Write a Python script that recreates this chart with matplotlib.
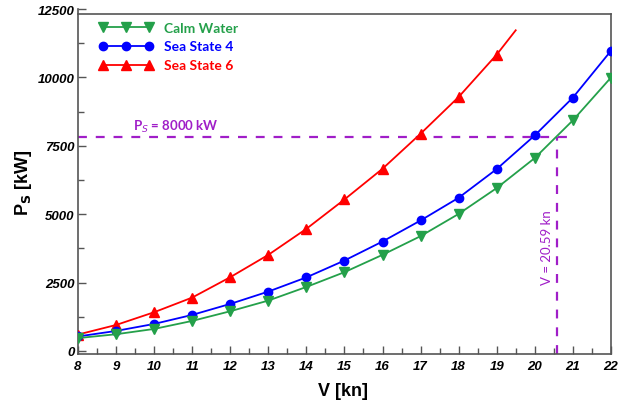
import matplotlib.pyplot as plt
from matplotlib.ticker import MultipleLocator

# speed in knots
speed = [8, 9, 10, 11, 12, 13, 14, 15, 16, 17, 18, 19, 20, 21, 22]
calm_water = [470, 611, 805, 1098, 1452, 1842, 2340, 2880, 3514, 4197, 5010, 5955, 7053, 8429, 9992]
sea_state_4 = [530, 732, 988, 1318, 1720, 2171, 2690, 3306, 4001, 4770, 5600, 6650, 7880, 9260, 10969]
# sea state 6 line runs on to 19.5 kn without a marker at the end
speed_ss6 = [8, 9, 10, 11, 12, 13, 14, 15, 16, 17, 18, 19, 19.5]
sea_state_6 = [600, 950, 1416, 1952, 2697, 3514, 4465, 5538, 6661, 7942, 9285, 10834, 11724]

ps_limit = 7820
v_limit = 20.59

green = '#24a04a'
blue = '#0000ff'
red = '#ff0000'
purple = '#a01ec8'
axcol = '#555555'

fig = plt.figure(figsize=(6.41, 4.02), dpi=100)
ax = fig.add_axes([0.1217, 0.117, 0.8313, 0.858])

ax.plot(speed_ss6, sea_state_6, color=red, lw=1.3, marker='^', ms=7,
        markevery=list(range(len(speed_ss6) - 1)), label='Sea State 6', zorder=3)
ax.plot(speed, sea_state_4, color=blue, lw=1.3, marker='o', ms=6, label='Sea State 4', zorder=4)
ax.plot(speed, calm_water, color=green, lw=1.3, marker='v', ms=7, label='Calm Water', zorder=5)

# reference lines
ax.plot([8, 21], [ps_limit, ps_limit], color=purple, lw=1.6, ls=(0, (4, 4)), zorder=2)
ax.plot([v_limit, v_limit], [-110, ps_limit], color=purple, lw=1.6, ls=(0, (4, 4)), zorder=2)
ax.text(9.45, ps_limit + 120, r'P$_S$ = 8000 kW', color=purple, fontsize=9.5,
        family='Lato', fontweight='bold', va='bottom', ha='left')
ax.text(20.33, 3800, 'V = 20.59 kn', color=purple, fontsize=9.5, family='Lato',
        rotation=90, ha='center', va='center')

ax.set_xlim(8, 22)
ax.set_ylim(-110, 12500)
ax.xaxis.set_major_locator(MultipleLocator(1))
ax.xaxis.set_minor_locator(MultipleLocator(0.5))
ax.yaxis.set_major_locator(MultipleLocator(2500))
ax.yaxis.set_minor_locator(MultipleLocator(1250))
ax.tick_params(which='both', direction='in', colors=axcol, labelcolor='black', top=False, right=False)
ax.tick_params(which='major', length=6, width=1)
ax.tick_params(which='minor', length=4.5, width=1)
ax.tick_params(axis='y', which='major', pad=2.5)
ax.tick_params(axis='x', which='major', pad=4)

for lab in ax.get_xticklabels() + ax.get_yticklabels():
    lab.set_family('Liberation Sans')
    lab.set_fontweight('bold')
    lab.set_fontstyle('italic')
    lab.set_fontsize(9.5)

ax.spines['top'].set_visible(False)
for s in ['left', 'bottom', 'right']:
    ax.spines[s].set_color(axcol)
    ax.spines[s].set_linewidth(1.2)
ax.spines['right'].set_bounds(-110, 12320)
ax.plot([8, 22], [12320, 12320], color=axcol, lw=1.2, clip_on=False)

ax.set_xlabel('V [kn]', family='Liberation Sans', fontweight='bold', fontsize=13)
ax.set_ylabel(r'P$_\mathbf{S}$ [kW]', family='Liberation Sans', fontweight='bold', fontsize=13)
ax.xaxis.set_label_coords(0.497, -0.082)
ax.yaxis.set_label_coords(-0.103, 0.5)
ax.yaxis.label.set_va('center')

handles, labels = ax.get_legend_handles_labels()
leg = ax.legend(handles[::-1], labels[::-1], loc='upper left', bbox_to_anchor=(0.015, 1.0),
                frameon=False, numpoints=3, handlelength=3.9, handletextpad=0.8,
                labelspacing=0.5, prop={'family': 'Lato', 'weight': 'bold', 'size': 10})
for txt, c in zip(leg.get_texts(), [green, blue, red]):
    txt.set_color(c)

fig.savefig('out.png', dpi=100)
